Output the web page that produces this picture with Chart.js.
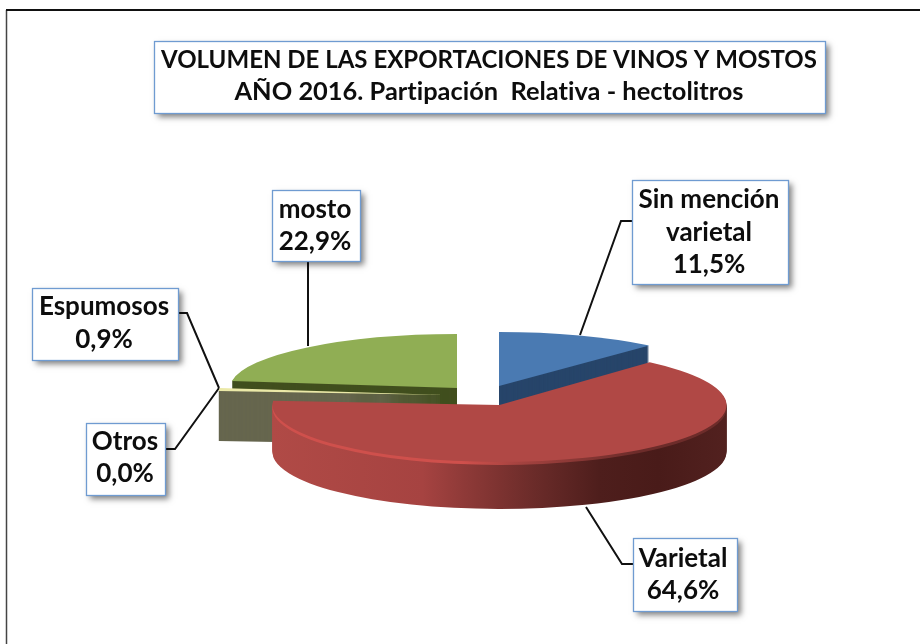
<!DOCTYPE html>
<html lang="es">
<head>
<meta charset="utf-8">
<title>Volumen de las exportaciones de vinos y mostos</title>
<script src="https://cdn.jsdelivr.net/npm/chart.js@4"></script>
<style>
html,body{margin:0;padding:0;background:#fff}
canvas{display:block}
</style>
</head>
<body>
<canvas id="c" width="920" height="644"></canvas>
<script>
const titleLines = ['VOLUMEN DE LAS EXPORTACIONES DE VINOS Y MOSTOS', 'AÑO 2016. Partipación  Relativa - hectolitros'];
const categories = ['Sin mención varietal', 'Varietal', 'Otros', 'Espumosos', 'mosto'];
const shares = [11.5, 64.6, 0.0, 0.9, 22.9];
const topColors = ['#4a7ab2', '#b04845', '#8064a2', '#ebe9a8', '#90ae54'];

const FAMILY = 'Lato, "Open Sans", sans-serif';
// Exploded 3D placement of each slice: centre on the page, vertical radius, wall depth
const slicePose = [
  {cx: 499, cy: 386, ry: 54, depth: 48, wall: '#27456a'},
  {cx: 499.5, cy: 405, ry: 57, depth: 47, wall: 'gradient'},
  {cx: 445, cy: 395, ry: 54, depth: 50, wall: '#66664e'},
  {cx: 445, cy: 395, ry: 54, depth: 50, wall: '#66664e'},
  {cx: 457, cy: 388, ry: 54, depth: 48, wall: '#414f1e'}
];
const drawOrder = [4, 0, 3, 2, 1];
const callouts = [
  {box: [632, 180, 156, 104], lines: ['Sin mención', 'varietal'], cx: 709, base: [208, 241, 273], leader: [[632, 221], [621, 221], [580, 335]]},
  {box: [633, 538, 104, 73], lines: ['Varietal'], cx: 683, base: [567, 599], leader: [[633, 564], [622, 564], [586, 507]]},
  {box: [86, 423, 79, 72], lines: ['Otros'], cx: 125, base: [450, 482], leader: [[165, 449], [175, 449], [219, 388]]},
  {box: [32, 288, 146, 72], lines: ['Espumosos'], cx: 104, base: [315, 348], leader: [[178, 313], [187, 313], [219, 388]]},
  {box: [272, 190, 88, 71], lines: ['mosto'], cx: 315, base: [218, 250], leader: [[308, 261], [308, 346]]}
];

function box(ctx, x, y, w, h) {
  ctx.save();
  ctx.shadowColor = 'rgba(0,0,0,0.5)';
  ctx.shadowBlur = 6;
  ctx.shadowOffsetX = 4;
  ctx.shadowOffsetY = 4;
  ctx.fillStyle = '#fff';
  ctx.fillRect(x, y, w, h);
  ctx.restore();
  ctx.strokeStyle = '#6f9bd1';
  ctx.lineWidth = 1.3;
  ctx.strokeRect(x + .5, y + .5, w, h);
}

function drawArcWith(arc, ctx, color) {
  const saved = arc.options;
  arc.options = Object.assign({}, saved, {backgroundColor: color, borderWidth: 0});
  arc.draw(ctx);
  arc.options = saved;
}

const pie3d = {
  id: 'pie3d',
  beforeDatasetsDraw(chart) {
    const ctx = chart.ctx;
    const meta = chart.getDatasetMeta(0);
    // frame
    ctx.save();
    ctx.lineWidth = 1.5;
    ctx.strokeStyle = '#444';
    ctx.beginPath();
    ctx.moveTo(6.5, 644);
    ctx.lineTo(6.5, 10);
    ctx.stroke();
    ctx.strokeStyle = '#111';
    ctx.lineWidth = 2;
    ctx.beginPath();
    ctx.moveTo(6, 10);
    ctx.lineTo(920, 10);
    ctx.stroke();
    ctx.restore();
    // leader lines
    ctx.save();
    ctx.strokeStyle = '#111';
    ctx.lineWidth = 2;
    callouts.forEach(c => {
      ctx.beginPath();
      c.leader.forEach((p, i) => i ? ctx.lineTo(p[0], p[1]) : ctx.moveTo(p[0], p[1]));
      ctx.stroke();
    });
    ctx.restore();
    // slices
    drawOrder.forEach(i => {
      const arc = meta.data[i];
      const p = slicePose[i];
      if (!shares[i]) return;
      const place = dy => {
        ctx.translate(p.cx, p.cy + dy);
        ctx.scale(1, p.ry / arc.outerRadius);
        ctx.translate(-arc.x, -arc.y);
      };
      let wall = p.wall;
      if (wall === 'gradient') {
        const x0 = arc.x - arc.outerRadius, w = 2 * arc.outerRadius;
        wall = ctx.createLinearGradient(x0, 0, x0 + w, 0);
        [[0, '#b04a46'], [.33, '#a64341'], [.42, '#8f3a38'], [.58, '#6a2b29'], [.72, '#4e1e1c'], [.85, '#491b19'], [1, '#52211f']]
          .forEach(s => wall.addColorStop(s[0], s[1]));
      }
      for (let d = p.depth; d >= 1; d--) {
        ctx.save();
        place(d);
        drawArcWith(arc, ctx, wall);
        ctx.restore();
      }
      if (i === 1) {
        // bevel highlight along the front rim
        ctx.save();
        place(3);
        const x0 = arc.x - arc.outerRadius, w = 2 * arc.outerRadius;
        const g = ctx.createLinearGradient(x0, 0, x0 + w, 0);
        g.addColorStop(0, '#cf504c');
        g.addColorStop(.42, '#cf504c');
        g.addColorStop(.55, '#a3423f');
        g.addColorStop(.8, '#6d2c2a');
        g.addColorStop(1, '#6d2c2a');
        drawArcWith(arc, ctx, g);
        ctx.restore();
      }
      ctx.save();
      place(0);
      arc.draw(ctx);
      ctx.restore();
    });
    return false;
  },
  afterDraw(chart) {
    const ctx = chart.ctx;
    ctx.save();
    ctx.letterSpacing = '0.01px'; // keeps Lato from joining "ti" into a ligature
    ctx.textAlign = 'center';
    ctx.textBaseline = 'alphabetic';
    box(ctx, 154, 41, 671, 72);
    ctx.fillStyle = '#0d0d0d';
    ctx.font = 'bold 24px ' + FAMILY;
    ctx.fillText(titleLines[0], 489, 68);
    ctx.font = 'bold 25.4px ' + FAMILY;
    ctx.fillText(titleLines[1], 489, 100);
    ctx.font = 'bold 26px ' + FAMILY;
    callouts.forEach((c, i) => {
      box(ctx, c.box[0], c.box[1], c.box[2], c.box[3]);
      ctx.fillStyle = '#0d0d0d';
      const text = c.lines.concat([shares[i].toFixed(1).replace('.', ',') + '%']);
      text.forEach((t, k) => ctx.fillText(t, c.cx, c.base[k]));
    });
    ctx.restore();
  }
};

new Chart(document.getElementById('c'), {
  type: 'pie',
  data: {
    labels: categories,
    datasets: [{data: shares, backgroundColor: topColors, borderWidth: 0}]
  },
  options: {
    responsive: false,
    animation: false,
    events: [],
    radius: 227,
    layout: {padding: 0},
    plugins: {legend: {display: false}, tooltip: {enabled: false}}
  },
  plugins: [pie3d]
});
</script>
</body>
</html>
